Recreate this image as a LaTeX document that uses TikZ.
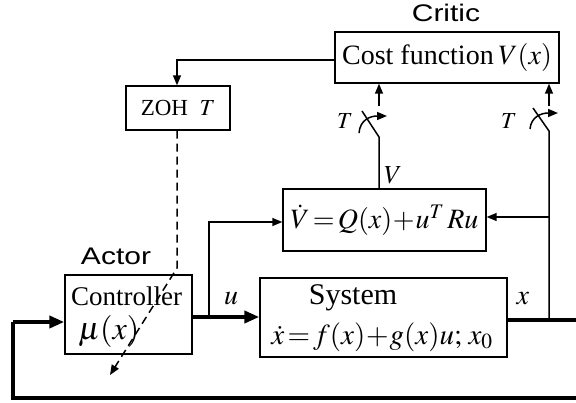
\documentclass[tikz,border=0pt]{standalone}
\usepackage{mathptmx}
\usepackage{fontspec}
\setmainfont{Liberation Serif}
\setsansfont{Liberation Sans}
\usetikzlibrary{arrows.meta}
\begin{document}
\begin{tikzpicture}[x=1pt,y=-1pt,
  box/.style={draw, line width=1.4pt, inner sep=0pt},
  lab/.style={font=\fontsize{24}{26}\selectfont\sffamily, xscale=1.25, transform shape},
  sm/.style={font=\fontsize{28}{30}\selectfont, inner sep=0pt},
  thin/.style={line width=1.5pt},
  heavy/.style={line width=4pt},
  arr/.style={-{Triangle[length=10pt,width=8pt]}},
  bigarr/.style={-{Triangle[length=15pt,width=12pt]}}]
\useasboundingbox (0,0) rectangle (576,403);

% boxes
\node[box, minimum width=224pt, minimum height=51pt, font=\fontsize{28}{30}\selectfont] (cost) at (447,57.5) {Cost function\,$V(x)$};
\node[box, minimum width=104pt, minimum height=44pt, font=\fontsize{23}{25}\selectfont] (zoh) at (178,108) {ZOH\ \ $T$};
\node[box, minimum width=203pt, minimum height=62pt, font=\fontsize{28}{30}\selectfont] (vdot) at (384.5,220) {$\dot V\!=\!Q(x)\!+\!u^T\, Ru$};
\node[box, minimum width=247pt, minimum height=79pt] (sys) at (383.5,317.5) {};
\node[box, minimum width=127pt, minimum height=79pt] (ctrl) at (128.5,314.5) {};

% box texts
\node[font=\fontsize{30}{32}\selectfont, inner sep=0pt] (systxt) at (353,298) {System};
\node[font=\fontsize{29}{31}\selectfont, inner sep=0pt] (systeq) at (382,337) {$\dot x\!=\!f(x)\!+\!g(x)u;\,x_0$};
\node[font=\fontsize{27}{29}\selectfont, anchor=west, inner sep=0pt] (ctrltxt) at (71,296) {Controller};
\node[font=\fontsize{32}{34}\selectfont, anchor=west, inner sep=0pt] (mutxt) at (78,332) {$\mu(x)$};

% titles
\node[lab] (critic) at (446,13) {Critic};
\node[lab] (actor) at (116,256) {Actor};

% labels
\node[sm] (ulab) at (231,299) {$u$};
\node[sm] (xlab) at (523,299) {$x$};
\node[sm, font=\fontsize{26}{28}\selectfont] (vlab) at (393,175) {$V$};
\node[sm, font=\fontsize{23}{25}\selectfont] (t1) at (345,121) {$T$};
\node[sm, font=\fontsize{23}{25}\selectfont] (t2) at (509,121) {$T$};

% coordinates
\coordinate (sw1) at (379,137);
\coordinate (sw1a) at (379,106);
\coordinate (sw2) at (549,131);
\coordinate (sw2a) at (549,106);
\coordinate (xb) at (549,320);
\coordinate (xr) at (579,320);
\coordinate (br) at (579,398);
\coordinate (bl) at (13,398);
\coordinate (ul) at (13,322);
\coordinate (ub) at (209,317);
\coordinate (ut) at (209,222);
\coordinate (zc) at (177,60);
\coordinate (dk) at (177,268);
\coordinate (dend) at (110,375);
\coordinate (vin) at (549,217);

% critic loop
\draw[thin, arr] (cost.west |- zc) -- (zc) -- (zoh.north -| zc);
\draw[thin, dash pattern=on 8pt off 5pt, arr] (zoh.south -| zc) -- (dk) -- (dend);

% switch 1
\draw[thin] (vdot.north -| sw1) -- (sw1) -- (362,111);
\draw[thin, arr] (359,133) .. controls (360,120) and (370,116) .. (387,116);
\draw[thin, arr] (sw1a) -- (cost.south -| sw1a);

% switch 2
\draw[thin] (xb) -- (sw2) -- (533,108);
\draw[thin, arr] (530,129) .. controls (531,117) and (541,113) .. (558,113);
\draw[thin, arr] (sw2a) -- (cost.south -| sw2a);

\draw[thin, arr] (vin) -- (vdot.east |- vin);

% actor to system
\draw[heavy, bigarr] (ctrl.east |- ub) -- (sys.west |- ub);
\draw[thin, arr] (ub) -- (ut) -- (vdot.west |- ut);

% feedback
\draw[heavy] (sys.east |- xb) -- (xr) -- (br) -- (bl) -- (ul);
\draw[heavy, bigarr] (ul) -- (ctrl.west |- ul);
\end{tikzpicture}
\end{document}
